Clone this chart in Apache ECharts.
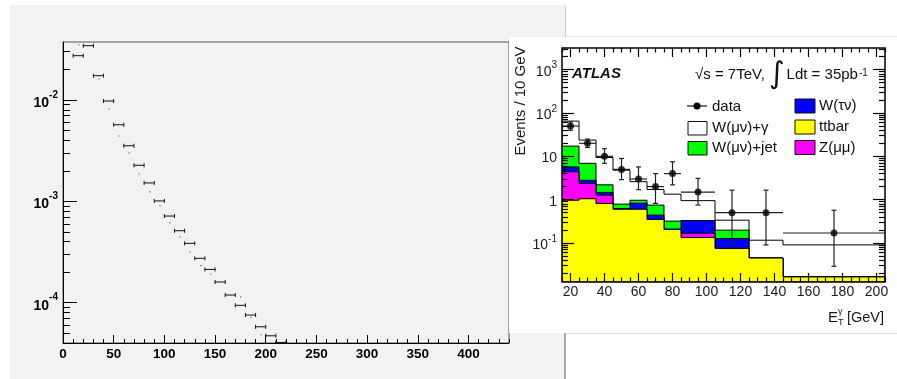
<!DOCTYPE html>
<html><head><meta charset="utf-8">
<script src="https://cdn.jsdelivr.net/npm/echarts@6/dist/echarts.min.js"></script>
<style>html,body{margin:0;padding:0;background:#fff}#c{width:897px;height:379px}</style>
</head><body><div id="c"></div>
<script>
// ---------- Left (ROOT) panel data ----------
const leftBinEdges = [10,20,30,40,50,60,70,80,90,100,110,120,130,140,150,160,170,180,190,200,210,220];
const leftBinValues = [0.0274,0.0344,0.0174,0.00978,0.0057,0.00354,0.00227,0.00152,0.00101,0.000716,0.000513,0.000385,0.000274,0.000213,0.00016,0.000119,0.0000942,0.0000755,0.0000578,0.0000471,0.0000405];
const leftDotX = [15.8,35.5,45.4,55.3,65.2,75,85.9,95.8,105.6,115.5,125.4,135.9,145.8,175.4,185.3,195.5];
const leftDotY = [0.0349,0.0161,0.00815,0.00441,0.0030,0.00186,0.00124,0.000906,0.000615,0.000448,0.000318,0.000232,0.000192,0.000114,0.0000715,0.0000482];
const leftXTicks = [0,50,100,150,200,250,300,350,400];
const leftYTicks = [0.0001,0.001,0.01];

// ---------- Right (ATLAS) panel data ----------
const etBinEdges = [15,25,35,45,55,65,75,85,105,125,145,205];
const ttbar      = [0.97,1.05,0.82,0.60,0.60,0.35,0.205,0.134,0.075,0.045,0.0165];
const zmumu      = [3.43,1.31,0.45,0,0,0,0,0.034,0,0,0];
const wtaunu     = [1.3,0.44,0.2,0.02,0.23,0.09,0.005,0.162,0.052,0,0];
const wmunuJet   = [11.5,4.1,0.73,0.17,0.14,0.31,0.11,0,0.071,0,0];
const wmunuGamma = [47.8,16.8,7.2,4.0,1.63,0.97,1.02,0.62,0.138,0.071,0.074];
const dataX    = [20,30,40,50,60,70,80,95,115,135,175];
const dataY    = [50,20,10,5,3,2,4,1.5,0.5,0.5,0.17];
const dataLow  = [40,16,6.9,2.9,1.7,0.82,2.2,0.75,0.09,0.09,0.029];
const dataHigh = [62,25,15,8.9,5.7,4.0,7.5,3.1,1.66,1.66,0.57];
const atlasXTicks = [20,40,60,80,100,120,140,160,180,200];
const atlasYTicks = [0.1,1,10,100,1000];

// ---------- helpers ----------
const FONT = '"Liberation Sans", Arial, sans-serif';
const LEFT_YMIN = 4e-5, LEFT_YMAX = 0.0374;
const AT_YMIN = 0.01259, AT_YMAX = 3162;

function minorLog(min, max) {
  const out = [];
  for (let k = Math.floor(Math.log10(min)); k <= Math.ceil(Math.log10(max)); k++) {
    for (let m = 2; m <= 9; m++) {
      const v = m * Math.pow(10, k);
      if (v >= min && v <= max) out.push(v);
    }
  }
  return out;
}
function minorLin(min, max, step, skip) {
  const out = [];
  for (let v = min; v <= max + 1e-9; v += step) if (v % skip !== 0) out.push(v);
  return out;
}
function cumulate(a, b) { return a.map((v, i) => v + b[i]); }

const cumT = ttbar.slice();
const cumZ = cumulate(cumT, zmumu);
const cumTau = cumulate(cumZ, wtaunu);
const cumJet = cumulate(cumTau, wmunuJet);
const cumGam = cumulate(cumJet, wmunuGamma);

function expLabel(v, big, small, keepSmall) {
  const e = Math.round(Math.log10(v));
  if (keepSmall && e === 0) return '{' + big + '|1}';
  if (keepSmall && e === 1) return '{' + big + '|10}';
  return '{' + big + '|10}{' + small + '|' + e + '}';
}

function stepLayer(cum, color) {
  return {
    type: 'custom', xAxisIndex: 2, yAxisIndex: 2, z: 6, clip: true,
    data: [[etBinEdges[0], cum[0]]], encode: { x: 0, y: 1 },
    renderItem: function (params, api) {
      const pts = [api.coord([etBinEdges[0], AT_YMIN])];
      for (let i = 0; i < cum.length; i++) {
        pts.push(api.coord([etBinEdges[i], cum[i]]));
        pts.push(api.coord([etBinEdges[i + 1], cum[i]]));
      }
      pts.push(api.coord([etBinEdges[etBinEdges.length - 1], AT_YMIN]));
      return { type: 'polygon', shape: { points: pts },
        style: { fill: color, stroke: '#000', lineWidth: 1 } };
    }
  };
}

const leftBarData = leftBinValues.map((v, i) => [(leftBinEdges[i] + leftBinEdges[i + 1]) / 2, v, leftBinEdges[i], leftBinEdges[i + 1]]);
const atlasErrData = dataX.map((x, i) => [x, dataY[i], dataLow[i], dataHigh[i], etBinEdges[i], etBinEdges[i + 1]]);

const hideAxisBits = { splitLine: { show: false }, minorTick: { show: false }, minorSplitLine: { show: false } };

const leftAxisLabel = { fontFamily: FONT, fontWeight: 'bold', fontSize: 13.5, color: '#000' };
const atlasAxisLabel = { fontFamily: FONT, fontSize: 14, color: '#1a1a1a' };

const option = {
  animation: false,
  backgroundColor: '#ffffff',
  grid: [
    { left: 63, top: 42, width: 446, height: 301, show: true, borderColor: '#555', borderWidth: 1,
      backgroundColor: 'transparent', containLabel: false, outerBoundsMode: 'none', z: 1 },
    { left: 562, top: 48, width: 323, height: 234, show: true, borderColor: '#000', borderWidth: 1.5,
      backgroundColor: 'transparent', containLabel: false, outerBoundsMode: 'none', z: 11 }
  ],
  xAxis: [
    Object.assign({ type: 'value', gridIndex: 0, position: 'bottom', min: 0, max: 440, z: 1,
      axisLine: { show: true, onZero: false, lineStyle: { color: '#000', width: 1 } },
      axisTick: { show: true, inside: true, length: 8, customValues: leftXTicks, lineStyle: { color: '#000' } },
      axisLabel: Object.assign({ show: true, margin: 4, customValues: leftXTicks, formatter: v => String(v) }, leftAxisLabel)
    }, hideAxisBits),
    Object.assign({ type: 'value', gridIndex: 0, position: 'bottom', min: 0, max: 440, z: 1,
      axisLine: { show: false, onZero: false },
      axisTick: { show: true, inside: true, length: 4, customValues: minorLin(0, 440, 10, 50), lineStyle: { color: '#000' } },
      axisLabel: { show: false }
    }, hideAxisBits),
    Object.assign({ type: 'value', gridIndex: 1, position: 'bottom', min: 15, max: 205, z: 12,
      axisLine: { show: false, onZero: false },
      axisTick: { show: true, inside: true, length: 9, customValues: atlasXTicks, lineStyle: { color: '#000', width: 1.2 } },
      axisLabel: Object.assign({ show: true, margin: 3, customValues: atlasXTicks, formatter: v => String(v) }, atlasAxisLabel)
    }, hideAxisBits),
    Object.assign({ type: 'value', gridIndex: 1, position: 'bottom', min: 15, max: 205, z: 12,
      axisLine: { show: false, onZero: false },
      axisTick: { show: true, inside: true, length: 4.5, customValues: minorLin(15, 205, 5, 20), lineStyle: { color: '#000', width: 1.2 } },
      axisLabel: { show: false }
    }, hideAxisBits),
    Object.assign({ type: 'value', gridIndex: 1, position: 'top', min: 15, max: 205, z: 12,
      axisLine: { show: false, onZero: false },
      axisTick: { show: true, inside: true, length: 9, customValues: atlasXTicks, lineStyle: { color: '#000', width: 1.2 } },
      axisLabel: { show: false }
    }, hideAxisBits),
    Object.assign({ type: 'value', gridIndex: 1, position: 'top', min: 15, max: 205, z: 12,
      axisLine: { show: false, onZero: false },
      axisTick: { show: true, inside: true, length: 4.5, customValues: minorLin(15, 205, 5, 20), lineStyle: { color: '#000', width: 1.2 } },
      axisLabel: { show: false }
    }, hideAxisBits)
  ],
  yAxis: [
    Object.assign({ type: 'log', logBase: 10, gridIndex: 0, position: 'left', min: LEFT_YMIN, max: LEFT_YMAX, z: 1,
      axisLine: { show: true, onZero: false, lineStyle: { color: '#000', width: 1 } },
      axisTick: { show: true, inside: true, length: 14, customValues: leftYTicks, lineStyle: { color: '#000' } },
      axisLabel: { show: true, margin: 5, customValues: leftYTicks, formatter: v => expLabel(v, 'b', 's', false),
        rich: {
          b: { fontFamily: FONT, fontWeight: 'bold', fontSize: 14, color: '#000', lineHeight: 20, verticalAlign: 'bottom' },
          s: { fontFamily: FONT, fontWeight: 'bold', fontSize: 10, color: '#000', lineHeight: 11, verticalAlign: 'top' }
        } }
    }, hideAxisBits),
    Object.assign({ type: 'log', logBase: 10, gridIndex: 0, position: 'left', min: LEFT_YMIN, max: LEFT_YMAX, z: 1,
      axisLine: { show: false, onZero: false },
      axisTick: { show: true, inside: true, length: 7, customValues: minorLog(LEFT_YMIN, LEFT_YMAX), lineStyle: { color: '#000' } },
      axisLabel: { show: false }
    }, hideAxisBits),
    Object.assign({ type: 'log', logBase: 10, gridIndex: 1, position: 'left', min: AT_YMIN, max: AT_YMAX, z: 12,
      axisLine: { show: false, onZero: false },
      axisTick: { show: true, inside: true, length: 12, customValues: atlasYTicks, lineStyle: { color: '#000', width: 1.2 } },
      axisLabel: { show: true, margin: 5, customValues: atlasYTicks, formatter: v => expLabel(v, 'n', 's', true),
        rich: {
          n: { fontFamily: FONT, fontSize: 14, color: '#1a1a1a', lineHeight: 18, verticalAlign: 'bottom' },
          s: { fontFamily: FONT, fontSize: 10, color: '#1a1a1a', lineHeight: 10, verticalAlign: 'top' }
        } }
    }, hideAxisBits),
    Object.assign({ type: 'log', logBase: 10, gridIndex: 1, position: 'left', min: AT_YMIN, max: AT_YMAX, z: 12,
      axisLine: { show: false, onZero: false },
      axisTick: { show: true, inside: true, length: 6, customValues: minorLog(AT_YMIN, AT_YMAX), lineStyle: { color: '#000', width: 1.2 } },
      axisLabel: { show: false }
    }, hideAxisBits),
    Object.assign({ type: 'log', logBase: 10, gridIndex: 1, position: 'right', min: AT_YMIN, max: AT_YMAX, z: 12,
      axisLine: { show: false, onZero: false },
      axisTick: { show: true, inside: true, length: 12, customValues: atlasYTicks, lineStyle: { color: '#000', width: 1.2 } },
      axisLabel: { show: false }
    }, hideAxisBits),
    Object.assign({ type: 'log', logBase: 10, gridIndex: 1, position: 'right', min: AT_YMIN, max: AT_YMAX, z: 12,
      axisLine: { show: false, onZero: false },
      axisTick: { show: true, inside: true, length: 6, customValues: minorLog(AT_YMIN, AT_YMAX), lineStyle: { color: '#000', width: 1.2 } },
      axisLabel: { show: false }
    }, hideAxisBits)
  ],
  series: [
    // left panel: horizontal bin bars with end caps
    { type: 'custom', xAxisIndex: 0, yAxisIndex: 0, z: 2, clip: true,
      data: leftBarData, encode: { x: 0, y: 1 },
      renderItem: function (params, api) {
        const a = api.coord([api.value(2), api.value(1)]);
        const b = api.coord([api.value(3), api.value(1)]);
        const st = { stroke: '#111', lineWidth: 1 };
        return { type: 'group', children: [
          { type: 'line', shape: { x1: a[0], y1: a[1], x2: b[0], y2: b[1] }, style: st },
          { type: 'line', shape: { x1: a[0], y1: a[1] - 2, x2: a[0], y2: a[1] + 2 }, style: st },
          { type: 'line', shape: { x1: b[0], y1: b[1] - 2, x2: b[0], y2: b[1] + 2 }, style: st }
        ] };
      } },
    { type: 'scatter', xAxisIndex: 0, yAxisIndex: 0, z: 2, symbol: 'circle', symbolSize: 1.6,
      itemStyle: { color: '#666' }, data: leftDotX.map((x, i) => [x, leftDotY[i]]) },
    // ATLAS stacked histograms (drawn from total downwards)
    stepLayer(cumGam, '#ffffff'),
    stepLayer(cumJet, '#00ff00'),
    stepLayer(cumTau, '#0000ff'),
    stepLayer(cumZ, '#ff00ff'),
    stepLayer(cumT, '#ffff00'),
    // data error bars
    { type: 'custom', xAxisIndex: 2, yAxisIndex: 2, z: 8, clip: true,
      data: atlasErrData, encode: { x: 0, y: 1 },
      renderItem: function (params, api) {
        const x = api.value(0), y = api.value(1);
        const pL = api.coord([api.value(4), y]);
        const pR = api.coord([api.value(5), y]);
        const pLo = api.coord([x, api.value(2)]);
        const pHi = api.coord([x, api.value(3)]);
        const st = { stroke: '#222', lineWidth: 1.2 };
        return { type: 'group', children: [
          { type: 'line', shape: { x1: pL[0], y1: pL[1], x2: pR[0], y2: pR[1] }, style: st },
          { type: 'line', shape: { x1: pLo[0], y1: pLo[1], x2: pHi[0], y2: pHi[1] }, style: st },
          { type: 'line', shape: { x1: pLo[0] - 2.5, y1: pLo[1], x2: pLo[0] + 2.5, y2: pLo[1] }, style: st },
          { type: 'line', shape: { x1: pHi[0] - 2.5, y1: pHi[1], x2: pHi[0] + 2.5, y2: pHi[1] }, style: st }
        ] };
      } },
    { type: 'scatter', xAxisIndex: 2, yAxisIndex: 2, z: 9, symbol: 'circle', symbolSize: 7,
      itemStyle: { color: '#000' }, data: dataX.map((x, i) => [x, dataY[i]]) }
  ],
  graphic: { elements: [
    { type: 'rect', z: -10, silent: true, shape: { x: 10, y: 5, width: 555, height: 374 }, style: { fill: '#f2f2f2' } },
    { type: 'line', z: -9, silent: true, shape: { x1: 565.5, y1: 5, x2: 565.5, y2: 37 }, style: { stroke: '#cfcfcf', lineWidth: 1 } },
    { type: 'line', z: -9, silent: true, shape: { x1: 565, y1: 333, x2: 565, y2: 379 }, style: { stroke: '#a8a8a8', lineWidth: 2 } },
    { type: 'rect', z: 3, silent: true, shape: { x: 509, y: 37, width: 388, height: 296 }, style: { fill: '#ffffff' } },
    { type: 'line', z: 4, silent: true, shape: { x1: 566, y1: 36.5, x2: 897, y2: 36.5 }, style: { stroke: '#e2e2e2', lineWidth: 1 } },
    { type: 'line', z: 4, silent: true, shape: { x1: 566, y1: 333.5, x2: 897, y2: 333.5 }, style: { stroke: '#e2e2e2', lineWidth: 1 } },
    // ATLAS annotations
    { type: 'text', z: 20, x: 572, y: 74, style: { text: 'ATLAS', font: 'italic bold 15px ' + FONT, fill: '#111',
      align: 'left', verticalAlign: 'middle', textAlign: 'left', textVerticalAlign: 'middle' } },
    { type: 'text', z: 20, x: 695, y: 75, style: {
      text: '{n|√s = 7TeV, }{i|∫}{n|Ldt = 35pb}{s|-1}', fill: '#111',
      align: 'left', verticalAlign: 'middle', textAlign: 'left', textVerticalAlign: 'middle',
      rich: {
        n: { fontFamily: FONT, fontSize: 15, fill: '#111', lineHeight: 30, verticalAlign: 'middle' },
        i: { fontFamily: '"DejaVu Sans", sans-serif', fontSize: 30, fill: '#111', lineHeight: 30, verticalAlign: 'middle', padding: [0, 2, 0, 0] },
        s: { fontFamily: FONT, fontSize: 10, fill: '#111', lineHeight: 22, verticalAlign: 'top', padding: [8, 0, 0, 1] }
      } } },
    // legend column 1
    { type: 'line', z: 20, shape: { x1: 687, y1: 106, x2: 707, y2: 106 }, style: { stroke: '#111', lineWidth: 1.2 } },
    { type: 'circle', z: 20, shape: { cx: 697, cy: 106, r: 3.5 }, style: { fill: '#000' } },
    { type: 'text', z: 20, x: 712, y: 107, style: { text: 'data', font: '15px ' + FONT, fill: '#111',
      align: 'left', verticalAlign: 'middle', textAlign: 'left', textVerticalAlign: 'middle' } },
    { type: 'rect', z: 20, shape: { x: 688, y: 121.5, width: 19, height: 13.5 }, style: { fill: '#ffffff', stroke: '#111', lineWidth: 1 } },
    { type: 'text', z: 20, x: 712, y: 128, style: { text: 'W(μν)+γ', font: '15px ' + FONT, fill: '#111',
      align: 'left', verticalAlign: 'middle', textAlign: 'left', textVerticalAlign: 'middle' } },
    { type: 'rect', z: 20, shape: { x: 688, y: 141.5, width: 19, height: 13.5 }, style: { fill: '#00ff00', stroke: '#111', lineWidth: 1 } },
    { type: 'text', z: 20, x: 712, y: 148, style: { text: 'W(μν)+jet', font: '15px ' + FONT, fill: '#111',
      align: 'left', verticalAlign: 'middle', textAlign: 'left', textVerticalAlign: 'middle' } },
    // legend column 2
    { type: 'rect', z: 20, shape: { x: 795, y: 99, width: 20, height: 14 }, style: { fill: '#0000ff', stroke: '#111', lineWidth: 1 } },
    { type: 'text', z: 20, x: 819, y: 106, style: { text: 'W(τν)', font: '15px ' + FONT, fill: '#111',
      align: 'left', verticalAlign: 'middle', textAlign: 'left', textVerticalAlign: 'middle' } },
    { type: 'rect', z: 20, shape: { x: 795, y: 120, width: 20, height: 14 }, style: { fill: '#ffff00', stroke: '#111', lineWidth: 1 } },
    { type: 'text', z: 20, x: 819, y: 127, style: { text: 'ttbar', font: '15px ' + FONT, fill: '#111',
      align: 'left', verticalAlign: 'middle', textAlign: 'left', textVerticalAlign: 'middle' } },
    { type: 'rect', z: 20, shape: { x: 795, y: 140.5, width: 20, height: 14 }, style: { fill: '#ff00ff', stroke: '#111', lineWidth: 1 } },
    { type: 'text', z: 20, x: 819, y: 148, style: { text: 'Z(μμ)', font: '15px ' + FONT, fill: '#111',
      align: 'left', verticalAlign: 'middle', textAlign: 'left', textVerticalAlign: 'middle' } },
    // axis titles
    { type: 'text', z: 20, x: 521, y: 101, rotation: Math.PI / 2, style: { text: 'Events / 10 GeV', font: '15px ' + FONT, fill: '#1a1a1a',
      align: 'center', verticalAlign: 'middle', textAlign: 'center', textVerticalAlign: 'middle' } },
    { type: 'text', z: 20, x: 884, y: 318, style: { text: '[GeV]', font: '14.5px ' + FONT, fill: '#1a1a1a',
      align: 'right', verticalAlign: 'middle', textAlign: 'right', textVerticalAlign: 'middle' } },
    { type: 'text', z: 20, x: 828, y: 318, style: { text: 'E', font: '15px ' + FONT, fill: '#1a1a1a',
      align: 'left', verticalAlign: 'middle', textAlign: 'left', textVerticalAlign: 'middle' } },
    { type: 'text', z: 20, x: 838, y: 312, style: { text: 'γ', font: '9px ' + FONT, fill: '#1a1a1a',
      align: 'left', verticalAlign: 'middle', textAlign: 'left', textVerticalAlign: 'middle' } },
    { type: 'text', z: 20, x: 838, y: 323, style: { text: 'T', font: '9px ' + FONT, fill: '#1a1a1a',
      align: 'left', verticalAlign: 'middle', textAlign: 'left', textVerticalAlign: 'middle' } }
  ] }
};

const chart = echarts.init(document.getElementById('c'), null, { renderer: 'canvas' });
chart.setOption(option);
</script>
</body></html>
